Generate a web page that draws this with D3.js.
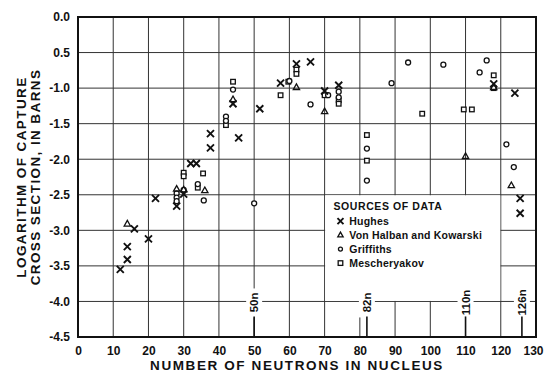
<!DOCTYPE html>
<html>
<head>
<meta charset="utf-8">
<script src="https://cdn.jsdelivr.net/npm/d3@7"></script>
<style>
  body { margin: 0; background: #fff; }
  text { font-family: "Liberation Sans", Arial, sans-serif; font-weight: bold; fill: #111; }
</style>
</head>
<body>
<div id="chart"></div>
<script>
// axis ticks
const xTicks = [0, 10, 20, 30, 40, 50, 60, 70, 80, 90, 100, 110, 120, 130];
const yTicks = [0, -0.5, -1, -1.5, -2, -2.5, -3, -3.5, -4, -4.5];
const yTickLabels = ["0.0", "0.5", "-1.0", "-1.5", "-2.0", "-2.5", "-3.0", "-3.5", "-4.0", "-4.5"];

// magic numbers
const magicN = [50, 82, 110, 126];
const magicLabels = ["50n", "82n", "110n", "126n"];

// data sets: [neutrons, log cross section]
const hughes = [[12, -3.55], [14, -3.41], [14, -3.23], [16, -2.98], [20, -3.12], [22, -2.55],
  [28, -2.66], [30, -2.49], [32, -2.06], [33.6, -2.06], [37.6, -1.64], [37.6, -1.84],
  [44, -1.22], [45.6, -1.70], [51.6, -1.29], [57.5, -0.93], [62, -0.66], [66, -0.63],
  [70, -1.04], [74, -0.96], [118, -0.94], [124, -1.07], [125.5, -2.55], [125.5, -2.76]];
const vonHalban = [[14, -2.91], [28, -2.42], [30, -2.43], [36, -2.44], [44, -1.16],
  [62, -0.99], [70, -1.33], [110, -1.96], [118, -0.99], [123, -2.37]];
const griffiths = [[28, -2.48], [28, -2.54], [28, -2.59], [30, -2.43], [34, -2.35], [35.7, -2.58],
  [42, -1.40], [42, -1.46], [44, -1.02], [50, -2.62], [60, -0.90], [66, -1.23],
  [71, -1.10], [74, -1.05], [74, -1.13], [82, -1.85], [82, -2.30], [89, -0.93],
  [93.7, -0.64], [103.7, -0.67], [114, -0.78], [116, -0.61], [121.6, -1.79], [123.7, -2.11]];
const mescheryakov = [[30, -2.19], [30, -2.24], [34, -2.40], [35.5, -2.20], [42, -1.52],
  [44, -0.91], [57.5, -1.10], [59.7, -0.91], [62, -0.74], [62, -0.80], [70, -1.10],
  [74, -1.17], [74, -1.22], [82, -1.66], [82, -2.02], [97.7, -1.36], [109.5, -1.30],
  [111.8, -1.30], [118, -0.82], [118, -1.00]];

const legendTitle = "SOURCES OF DATA";
const legendNames = ["Hughes", "Von Halban and Kowarski", "Griffiths", "Mescheryakov"];

const width = 545, height = 373;
const margin = {top: 17, right: 9, bottom: 36, left: 78};

const svg = d3.select("#chart").append("svg")
  .attr("width", width)
  .attr("height", height);

const x = d3.scaleLinear().domain([0, 130]).range([margin.left, width - margin.right]);
const y = d3.scaleLinear().domain([0, -4.5]).range([margin.top, height - margin.bottom]);

// grid
const grid = svg.append("g").attr("stroke", "#333").attr("stroke-width", 1);
grid.selectAll(".vg").data(xTicks.slice(1, -1)).enter().append("line")
  .attr("x1", d => x(d)).attr("x2", d => x(d))
  .attr("y1", y(0)).attr("y2", y(-4.5));
grid.selectAll(".hg").data(yTicks.slice(1, -1)).enter().append("line")
  .attr("x1", x(0)).attr("x2", x(130))
  .attr("y1", d => y(d)).attr("y2", d => y(d));

// legend box blanks out the grid
svg.append("rect")
  .attr("x", x(70) + 0.5).attr("y", y(-2.5) + 0.5)
  .attr("width", x(120) - x(70) - 1).attr("height", y(-4) - y(-2.5) - 1)
  .attr("fill", "#fff");

// magic number markers
const magic = svg.append("g");
magicN.forEach((n, i) => {
  const cx = x(n), cy = y(-4);
  magic.append("rect")
    .attr("x", cx - 8).attr("y", cy - 13)
    .attr("width", 16).attr("height", 29)
    .attr("fill", "#fff");
  magic.append("line")
    .attr("x1", cx).attr("x2", cx)
    .attr("y1", cy + 15).attr("y2", y(-4.5))
    .attr("stroke", "#111").attr("stroke-width", 1.6);
  magic.append("text")
    .attr("transform", `translate(${cx + 4},${cy + 1}) rotate(-90)`)
    .attr("text-anchor", "middle")
    .attr("font-size", 11.5)
    .text(magicLabels[i]);
});

// frame
svg.append("rect")
  .attr("x", x(0)).attr("y", y(0))
  .attr("width", x(130) - x(0)).attr("height", y(-4.5) - y(0))
  .attr("fill", "none").attr("stroke", "#111").attr("stroke-width", 2);

// axes labels
const xAxis = d3.axisBottom(x).tickValues(xTicks).tickSize(0).tickPadding(9);
svg.append("g")
  .attr("transform", `translate(0,${y(-4.5)})`)
  .call(xAxis)
  .call(g => g.select(".domain").remove())
  .selectAll("text").attr("font-size", 12).attr("font-family", null).attr("fill", null)
  .attr("dx", d => d === 130 ? -3 : 0);

const yAxis = d3.axisLeft(y).tickValues(yTicks).tickSize(0).tickPadding(8)
  .tickFormat((d, i) => yTickLabels[i]);
svg.append("g")
  .attr("transform", `translate(${x(0)},0)`)
  .call(yAxis)
  .call(g => g.select(".domain").remove())
  .selectAll("text").attr("font-size", 12).attr("font-family", null).attr("fill", null);

svg.append("text")
  .attr("x", (x(0) + x(130)) / 2 - 10).attr("y", 370)
  .attr("text-anchor", "middle")
  .attr("font-size", 13.5).attr("letter-spacing", 1.6)
  .text("NUMBER OF NEUTRONS IN NUCLEUS");

const yl = svg.append("text")
  .attr("transform", `translate(26,${y(-2.25)}) rotate(-90)`)
  .attr("text-anchor", "middle")
  .attr("font-size", 13.5).attr("letter-spacing", 1.4);
yl.append("tspan").attr("x", 0).attr("dy", 0).text("LOGARITHM OF CAPTURE");
yl.append("tspan").attr("x", 0).attr("dy", 14).text("CROSS SECTION, IN BARNS");

// markers
function drawX(g, px, py, s) {
  g.append("path")
    .attr("d", `M${px - s},${py - s}L${px + s},${py + s}M${px + s},${py - s}L${px - s},${py + s}`)
    .attr("stroke", "#111").attr("stroke-width", 1.9).attr("fill", "none");
}
function drawTri(g, px, py, s) {
  g.append("path")
    .attr("d", `M${px},${py - s}L${px + s * 0.9},${py + s * 0.6}L${px - s * 0.9},${py + s * 0.6}Z`)
    .attr("stroke", "#111").attr("stroke-width", 1.3).attr("fill", "none");
}
function drawCirc(g, px, py, r) {
  g.append("circle").attr("cx", px).attr("cy", py).attr("r", r)
    .attr("stroke", "#111").attr("stroke-width", 1.3).attr("fill", "#fff");
}
function drawSq(g, px, py, s) {
  g.append("rect").attr("x", px - s).attr("y", py - s).attr("width", 2 * s).attr("height", 2 * s)
    .attr("stroke", "#111").attr("stroke-width", 1.3).attr("fill", "#fff");
}

const pts = svg.append("g");
mescheryakov.forEach(d => drawSq(pts, x(d[0]), y(d[1]), 2.3));
griffiths.forEach(d => drawCirc(pts, x(d[0]), y(d[1]), 2.5));
vonHalban.forEach(d => drawTri(pts, x(d[0]), y(d[1]), 3.5));
hughes.forEach(d => drawX(pts, x(d[0]), y(d[1]), 3.5));

// legend
const lg = svg.append("g");
lg.append("text").attr("x", x(72.5)).attr("y", y(-2.72))
  .attr("font-size", 10.5).attr("letter-spacing", 0.6).text(legendTitle);
const drawers = [
  (px, py) => drawX(lg, px, py, 3),
  (px, py) => drawTri(lg, px, py, 3),
  (px, py) => drawCirc(lg, px, py, 2),
  (px, py) => drawSq(lg, px, py, 2.3)
];
legendNames.forEach((name, i) => {
  const ly = y(-2.87) + i * 14;
  drawers[i](x(74.5), ly);
  lg.append("text").attr("x", x(77)).attr("y", ly + 4)
    .attr("font-size", 10.5).attr("letter-spacing", 0.2).text(name);
});
</script>
</body>
</html>
